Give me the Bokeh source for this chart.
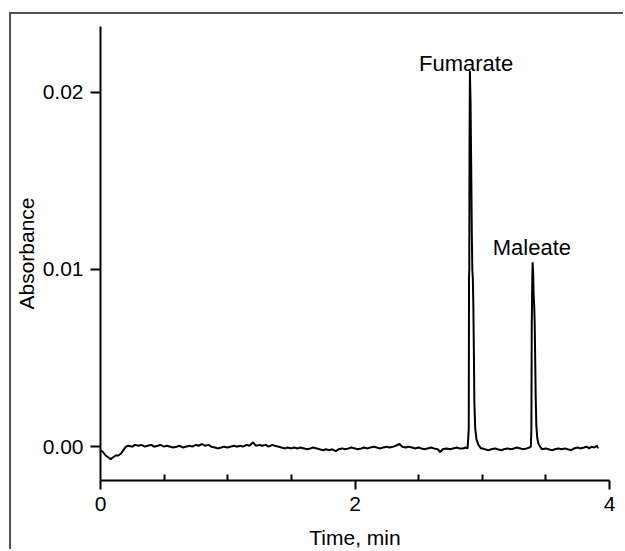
from bokeh.plotting import figure
from bokeh.models import FixedTicker, Range1d, ColumnDataSource, Label
from bokeh.embed import file_html
from bokeh.resources import INLINE

# ---- data ----
time_min = [
    0.00, 0.02, 0.04, 0.06, 0.08, 0.10, 0.12, 0.14, 0.16, 0.18, 0.20,
    0.22, 0.25, 0.27, 0.30, 0.32, 0.35, 0.37, 0.40, 0.42, 0.45, 0.47, 0.50,
    0.52, 0.55, 0.57, 0.60, 0.62, 0.65, 0.67, 0.70, 0.72, 0.75, 0.77, 0.80,
    0.82, 0.85, 0.87, 0.90, 0.92, 0.95, 0.97, 1.00, 1.02, 1.05, 1.07, 1.10,
    1.12, 1.15, 1.17, 1.20, 1.22, 1.25, 1.27, 1.30, 1.32, 1.35, 1.37, 1.40,
    1.42, 1.45, 1.47, 1.50, 1.52, 1.55, 1.57, 1.60, 1.62, 1.65, 1.67, 1.70,
    1.72, 1.75, 1.77, 1.80, 1.82, 1.85, 1.87, 1.90, 1.92, 1.95, 1.97, 2.00,
    2.02, 2.05, 2.07, 2.10, 2.12, 2.15, 2.17, 2.20, 2.22, 2.25, 2.27, 2.30,
    2.32, 2.35, 2.37, 2.40, 2.42, 2.45, 2.47, 2.50, 2.52, 2.55, 2.57, 2.60,
    2.62, 2.65, 2.67, 2.69, 2.72, 2.75, 2.77, 2.80, 2.82, 2.85,
    2.870, 2.885, 2.894, 2.896, 2.898, 2.900, 2.903, 2.908, 2.913, 2.918,
    2.922, 2.926, 2.930, 2.934, 2.938, 2.945, 2.955, 2.970, 2.990,
    3.00, 3.02, 3.05, 3.07, 3.10, 3.12, 3.15, 3.17, 3.20, 3.22, 3.25,
    3.27, 3.30, 3.32, 3.35,
    3.370, 3.382, 3.386, 3.389, 3.391, 3.393, 3.396, 3.400, 3.404, 3.408,
    3.412, 3.416, 3.420, 3.425, 3.432, 3.440, 3.455,
    3.47, 3.50, 3.52, 3.55, 3.57, 3.60, 3.62, 3.65, 3.67, 3.70,
    3.72, 3.75, 3.77, 3.80, 3.82, 3.84, 3.86, 3.88, 3.90, 3.91,
]

# absorbance in units of 1e-4
absorbance_e4 = [
    -2, -3, -5, -6, -7, -6, -5, -5, -4, -2, 0,
    0.5, 0, 1, 0.5, 1, 0, 0.5, 1, 0, 0.5, 1, 0,
    0.5, 0, -0.5, 0, 0.5, -0.5, 0, 0.5, 0, 1, 0.5, 1.5,
    0.5, 1, 0, -0.5, -1, -0.5, 0, -0.5, 0, 0.5, 0, 0.5,
    0, 1, 0.5, 2.5, 0.5, 1, 0.5, 1, 0, 1, 0.5, 0,
    -0.5, -1, -0.5, -1, -0.5, -1, -0.5, -1, -1.5, -1, -0.5, -1,
    -1.5, -2, -1.5, -2, -1.5, -2.5, -1.5, -1, -1.5, -1, -0.5, -1,
    -1.5, -1, -0.5, -1, -0.5, 0, -0.5, -1, -0.5, 0, -0.5, 0,
    0.5, 1.5, 0, -0.5, 0, -0.5, -1, -0.5, -1, -1.5, -1, -0.5,
    -1, -1.5, -3, -1.5, -1, -1.5, -1, -0.5, -1, -1,
    -0.5, -1, 10, 95, 100, 170, 212, 195, 160, 120,
    100, 95, 80, 55, 25, 10, 4, 1, -1,
    -1, -1.5, -2, -1.5, -1, -1.5, -2, -1.5, -1, -1.5, -1,
    -0.5, -1, -1.5, -1,
    -0.5, 0, 10, 70, 80, 95, 104, 98, 85, 80,
    70, 50, 28, 12, 5, 2, 0,
    -1.5, -1, -1.5, -2, -1.5, -1, -1.5, -1, -1.5, -2,
    -1, -0.5, -1, -0.5, 0, -1, 0, -0.5, 0.5, -1,
]
absorbance = [v * 1e-4 for v in absorbance_e4]

x_ticks = [0, 2, 4]
x_minor_ticks = [0.5, 1, 1.5, 2.5, 3, 3.5]
y_ticks = [0.0, 0.01, 0.02]
y_tick_labels = ["0.00", "0.01", "0.02"]

peak_names = ["Fumarate", "Maleate"]
peak_label_x = [2.873, 3.39]
peak_label_y = [0.02163, 0.01124]

FONT = "Liberation Sans"

p = figure(width=614, height=537, output_backend="svg", toolbar_location=None,
           x_range=Range1d(0, 4), y_range=Range1d(-0.00191, 0.02371),
           min_border_left=87, min_border_right=16, min_border_top=12,
           min_border_bottom=69)
p.styles = {"border-top": "2px solid #555555",
            "border-left": "2px solid #555555",
            "margin-left": "9px", "margin-top": "12px"}
p.outline_line_color = None
p.xgrid.visible = False
p.ygrid.visible = False
p.background_fill_color = "white"
p.border_fill_color = "white"

src = ColumnDataSource(dict(t=time_min, a=absorbance))
p.line("t", "a", source=src, line_color="black", line_width=2)

for name, lx, ly in zip(peak_names, peak_label_x, peak_label_y):
    p.add_layout(Label(x=lx, y=ly, text=name, text_align="center",
                       text_baseline="alphabetic", text_font=FONT,
                       text_font_size="22px", text_color="black"))

xa = p.xaxis[0]
xa.ticker = FixedTicker(ticks=x_ticks, minor_ticks=x_minor_ticks)
xa.axis_label = "Time, min"
xa.major_tick_in = 0
xa.major_tick_out = 9
xa.minor_tick_in = 6
xa.minor_tick_out = 0
xa.major_label_standoff = 7
xa.axis_label_standoff = 12

ya = p.yaxis[0]
ya.ticker = FixedTicker(ticks=y_ticks, minor_ticks=[])
ya.major_label_overrides = {t: l for t, l in zip(y_ticks, y_tick_labels)}
ya.axis_label = "Absorbance"
ya.major_tick_in = 0
ya.major_tick_out = 10
ya.minor_tick_in = 0
ya.minor_tick_out = 0
ya.major_label_standoff = 7
ya.axis_label_standoff = 2

for ax in (xa, ya):
    ax.axis_line_width = 2
    ax.major_tick_line_width = 2
    ax.minor_tick_line_width = 2
    ax.axis_line_color = "black"
    ax.major_tick_line_color = "black"
    ax.minor_tick_line_color = "black"
    ax.major_label_text_font = FONT
    ax.major_label_text_font_size = "21px"
    ax.major_label_text_color = "black"
    ax.axis_label_text_font = FONT
    ax.axis_label_text_font_size = "21px"
    ax.axis_label_text_font_style = "normal"
    ax.axis_label_text_color = "black"

open("out.html", "w").write(file_html(p, INLINE))
